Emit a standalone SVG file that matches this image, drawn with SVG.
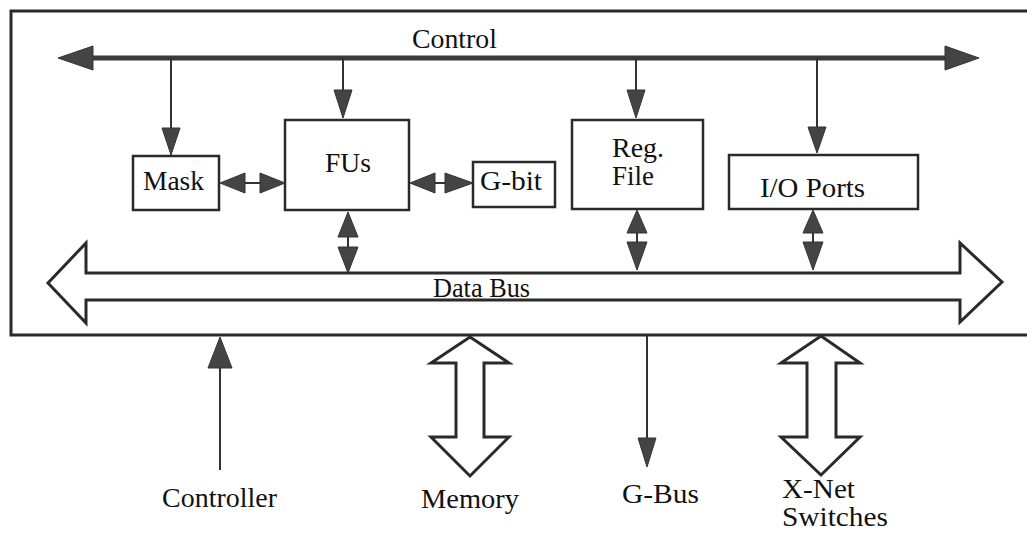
<svg xmlns="http://www.w3.org/2000/svg" width="1027" height="533" viewBox="0 0 1027 533">
  <style>
    .frame { fill: #fff; stroke: #2a2a2a; stroke-width: 3; }
    .box { fill: #fff; stroke: #2a2a2a; stroke-width: 2.5; }
    .wire { fill: none; stroke: #333; stroke-width: 2; }
    .bar { fill: none; stroke: #3a3a3a; stroke-width: 5; }
    .head { fill: #444; stroke: #333; stroke-width: 1; stroke-linejoin: round; }
    .hollow { fill: #fff; stroke: #2a2a2a; stroke-width: 3; stroke-linejoin: miter; }
    text { font-family: "Liberation Serif", "Times New Roman", serif; font-size: 28px; fill: #111; }
  </style>

  <rect width="1027" height="533" fill="#fff"/>

  <!-- processor frame -->
  <rect id="frame" class="frame" x="11" y="11" width="1030" height="324"/>

  <!-- internal blocks -->
  <g id="mask">
    <rect class="box" x="133" y="156" width="86" height="54"/>
    <text x="143" y="190" textLength="61" lengthAdjust="spacingAndGlyphs">Mask</text>
  </g>
  <g id="fus">
    <rect class="box" x="285" y="120" width="124" height="90"/>
    <text x="325" y="172" textLength="46" lengthAdjust="spacingAndGlyphs">FUs</text>
  </g>
  <g id="gbit">
    <rect class="box" x="473" y="162" width="82" height="45"/>
    <text x="480" y="190" textLength="62" lengthAdjust="spacingAndGlyphs">G-bit</text>
  </g>
  <g id="regfile">
    <rect class="box" x="572" y="120" width="131" height="89"/>
    <text x="612" y="157" textLength="52" lengthAdjust="spacingAndGlyphs">Reg.</text>
    <text x="612" y="185" textLength="42" lengthAdjust="spacingAndGlyphs">File</text>
  </g>
  <g id="ioports">
    <rect class="box" x="729" y="155" width="189" height="54"/>
    <text x="760" y="197" textLength="105" lengthAdjust="spacingAndGlyphs">I/O Ports</text>
  </g>

  <!-- external labels -->
  <g id="controller"><text x="162" y="507" textLength="115" lengthAdjust="spacingAndGlyphs">Controller</text></g>
  <g id="memory"><text x="421" y="508" textLength="98" lengthAdjust="spacingAndGlyphs">Memory</text></g>
  <g id="gbus"><text x="622" y="503" textLength="77" lengthAdjust="spacingAndGlyphs">G-Bus</text></g>
  <g id="xnet">
    <text x="782" y="498" textLength="73" lengthAdjust="spacingAndGlyphs">X-Net</text>
    <text x="782" y="526" textLength="106" lengthAdjust="spacingAndGlyphs">Switches</text>
  </g>

  <g id="connectors">
    <!-- control bus -->
    <line class="bar" x1="90" y1="58" x2="948" y2="58"/>
    <polygon class="head" points="58,58 93,46 93,70"/>
    <polygon class="head" points="979,58 945,46 945,70"/>
    <text x="412" y="48" textLength="85" lengthAdjust="spacingAndGlyphs">Control</text>

    <!-- control drops -->
    <line class="wire" x1="171" y1="58" x2="171" y2="130"/>
    <polygon class="head" points="171,155 162,128 180,128"/>
    <line class="wire" x1="343" y1="58" x2="343" y2="92"/>
    <polygon class="head" points="343,118 334,90 352,90"/>
    <line class="wire" x1="636" y1="58" x2="636" y2="92"/>
    <polygon class="head" points="636,118 627,90 645,90"/>
    <line class="wire" x1="817" y1="58" x2="817" y2="129"/>
    <polygon class="head" points="817,153 808,127 826,127"/>

    <!-- Mask <-> FUs -->
    <line class="wire" x1="244" y1="183" x2="261" y2="183" stroke-width="3"/>
    <polygon class="head" points="220,183 245,173 245,193"/>
    <polygon class="head" points="285,183 260,173 260,193"/>
    <!-- FUs <-> G-bit -->
    <line class="wire" x1="434" y1="183" x2="446" y2="183" stroke-width="3"/>
    <polygon class="head" points="410,183 435,173 435,193"/>
    <polygon class="head" points="473,183 445,173 445,193"/>

    <!-- blocks <-> data bus -->
    <line class="wire" x1="348" y1="236" x2="348" y2="248" stroke-width="3"/>
    <polygon class="head" points="348,212 338,237 358,237"/>
    <polygon class="head" points="348,273 338,247 358,247"/>
    <line class="wire" x1="637" y1="232" x2="637" y2="243" stroke-width="3"/>
    <polygon class="head" points="637,210 627,233 647,233"/>
    <polygon class="head" points="637,270 627,242 647,242"/>
    <line class="wire" x1="813" y1="232" x2="813" y2="243" stroke-width="3"/>
    <polygon class="head" points="813,210 803,233 823,233"/>
    <polygon class="head" points="813,270 803,242 823,242"/>

    <!-- data bus -->
    <path class="hollow" d="M86 273 L960 273 L960 243 L1002 282 L960 322 L960 300 L86 300 L86 323 L48 283 L86 243 Z"/>
    <text x="433" y="297" textLength="97" lengthAdjust="spacingAndGlyphs">Data Bus</text>

    <!-- controller input -->
    <line class="wire" x1="220" y1="366" x2="220" y2="470" stroke-width="3"/>
    <polygon class="head" points="220,337 208,368 232,368"/>

    <!-- memory port -->
    <path class="hollow" d="M470 337 L509 363 L484 363 L484 437 L509 437 L470 476 L431 437 L456 437 L456 363 L431 363 Z"/>

    <!-- G-Bus output -->
    <line class="wire" x1="647" y1="335" x2="647" y2="440"/>
    <polygon class="head" points="647,467 638,438 656,438"/>

    <!-- X-Net port -->
    <path class="hollow" d="M821 336 L860 363 L836 363 L836 437 L860 437 L821 475 L781 437 L807 437 L807 363 L781 363 Z"/>
  </g>
</svg>
